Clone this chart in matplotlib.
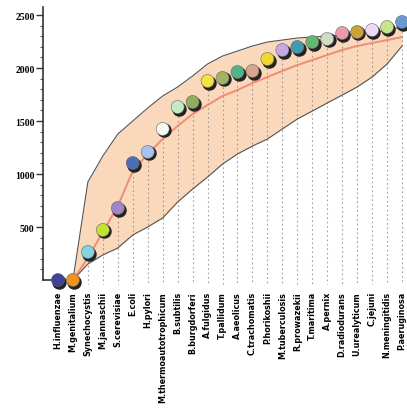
import numpy as np
import matplotlib
matplotlib.use("Agg")
import matplotlib.pyplot as plt
import matplotlib.transforms as mtransforms

genomes = ["H.influenzae", "M.genitalium", "Synechocystis", "M.jannaschii",
           "S.cerevisiae", "E.coli", "H.pylori", "M.thermoautotrophicum",
           "B.subtilis", "B.burgdorferi", "A.fulgidus", "T.pallidum",
           "A.aeolicus", "C.trachomatis", "P.horikoshii", "M.tuberculosis",
           "R.prowazekii", "T.maritima", "A.pernix", "D.radiodurans",
           "U.urealyticum", "C.jejuni", "N.meningitidis", "P.aeruginosa"]

valores = [0, 0, 264, 472, 679, 1104, 1208, 1425, 1632, 1679, 1877, 1906,
           1962, 1972, 2085, 2170, 2198, 2245, 2274, 2330, 2340, 2358, 2387, 2434]

colores = ["#43409c", "#f0921f", "#86d3df", "#c3e233", "#a184c4", "#4f6db3",
           "#a6c3ef", "#f8f8f2", "#c4e9c6", "#8fae5e", "#f2e342", "#a3b262",
           "#52b386", "#d9a48f", "#f0d832", "#c4a9e4", "#3f9bae", "#62b772",
           "#d2dcc4", "#ee9aab", "#caa23a", "#eadcf6", "#c9e58c", "#6a9ad6"]

# envolvente (desde el segundo genoma)
env_sup = [0, 925, 1170, 1377, 1500, 1623, 1736, 1821, 1925, 2038, 2113,
           2160, 2208, 2245, 2264, 2283, 2292, 2302, 2311, 2321, 2330, 2358, 2387]
env_inf = [0, 151, 236, 302, 425, 500, 585, 736, 858, 972, 1094, 1189,
           1264, 1330, 1425, 1519, 1594, 1670, 1745, 1821, 1915, 2038, 2208]
media = [0, 208, 453, 698, 1028, 1189, 1330, 1453, 1566, 1651, 1736, 1792,
         1858, 1915, 1972, 2028, 2075, 2123, 2170, 2208, 2236, 2264, 2292]

x = np.arange(len(genomes))
xe = x[1:]

fig = plt.figure(figsize=(4.07, 4.10), dpi=100)
ax = fig.add_axes([43/407, (410-281)/410, 364/407, 281/410])

ax.fill_between(xe, env_inf, env_sup, color="#fad8bb", zorder=1, lw=0)
ax.plot(xe, env_sup, color="#555555", lw=0.8, zorder=2)
ax.plot(xe, env_inf, color="#555555", lw=0.8, zorder=2)

for xi, v in zip(x, valores):
    if v > 0:
        ax.plot([xi, xi], [v, -40], color="#888888", lw=0.8,
                ls=(0, (1.5, 2.5)), alpha=0.8, zorder=1.5, clip_on=False)

ax.plot(xe, media, color="#f07f68", lw=1.4, alpha=0.85, zorder=3)

sombra = mtransforms.offset_copy(ax.transData, fig=fig, x=0.9, y=-1.1, units="points")
ax.scatter(x, valores, s=88, color="#222222", transform=sombra, zorder=4, clip_on=False)
ax.scatter(x, valores, s=88, c=colores, edgecolors="#666666", linewidths=0.4,
           zorder=5, clip_on=False)

ax.set_xlim(-1.0, 23.33)
ax.set_ylim(0, 2651)

for s in ["top", "right"]:
    ax.spines[s].set_visible(False)
ax.spines["left"].set_bounds(0, 2575)
ax.spines["bottom"].set_bounds(-1.0, -0.4)
ax.spines["left"].set_color("#333333")
ax.spines["bottom"].set_color("#333333")
ax.spines["left"].set_linewidth(1.2)
ax.spines["bottom"].set_linewidth(1.2)

ax.set_yticks([500, 1000, 1500, 2000, 2500])
ax.set_yticks(np.arange(100, 2600, 100), minor=True)
ax.tick_params(axis="y", which="major", length=5, width=1, color="#333333", pad=1)
ax.tick_params(axis="y", which="minor", length=2.5, width=0.8, color="#555555")
for t in ax.get_yticklabels():
    t.set_fontfamily("Liberation Serif")
    t.set_fontweight("bold")
    t.set_fontsize(7)

ax.set_xticks(x)
ax.set_xticklabels(genomes, rotation=90, fontsize=5.8, fontweight="bold",
                   family="DejaVu Sans", va="top", ha="center")
ax.tick_params(axis="x", length=0, pad=8)

fig.savefig("out.png", dpi=100)
